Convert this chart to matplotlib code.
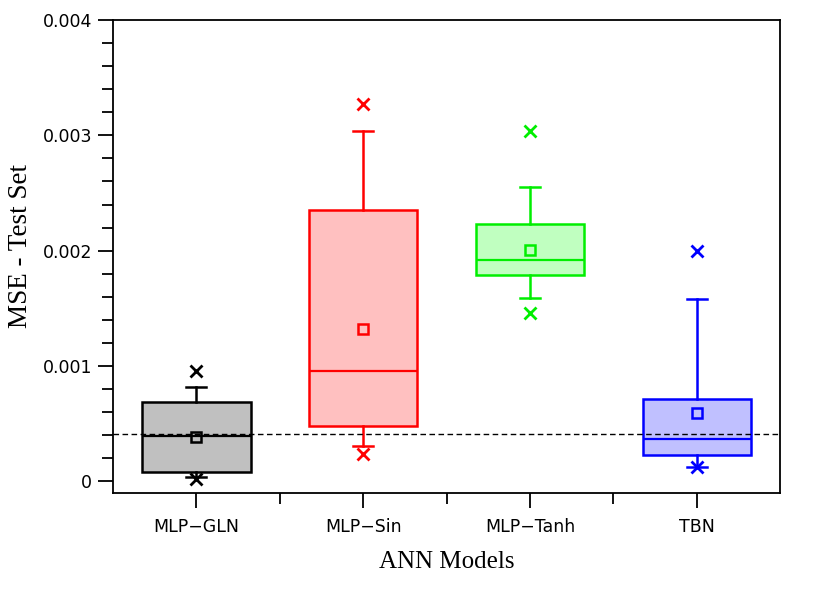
import matplotlib.pyplot as plt
from matplotlib.ticker import MultipleLocator, FixedLocator

models = ['MLP\u2212GLN', 'MLP\u2212Sin', 'MLP\u2212Tanh', 'TBN']
q1 = [0.000078, 0.000477, 0.00179, 0.000226]
medians = [0.00039, 0.000955, 0.00192, 0.000364]
q3 = [0.000685, 0.00235, 0.00223, 0.00071]
means = [0.00038, 0.00132, 0.00201, 0.00059]
whis_lo = [0.00004, 0.00031, 0.00159, 0.00012]
whis_hi = [0.000816, 0.00304, 0.00255, 0.00158]
min_vals = [0.00002, 0.00024, 0.00146, 0.00012]
max_vals = [0.00096, 0.00327, 0.00304, 0.002]
ref_line = 0.000408

edge_colors = ['black', 'red', '#00ee00', 'blue']
fill_colors = ['#c0c0c0', '#ffc0c0', '#c0ffc0', '#c0c0ff']

fig = plt.figure(figsize=(8.3, 5.9), dpi=100)
ax = fig.add_axes([0.136, 0.164, 0.804, 0.802])

for i in range(4):
    stats = [{'med': medians[i], 'q1': q1[i], 'q3': q3[i],
              'whislo': whis_lo[i], 'whishi': whis_hi[i],
              'mean': means[i], 'fliers': []}]
    c = edge_colors[i]
    ax.bxp(stats, positions=[i + 1], widths=0.65, patch_artist=True,
           showmeans=True, showfliers=False,
           boxprops=dict(facecolor=fill_colors[i], edgecolor=c, linewidth=1.8),
           medianprops=dict(color=c, linewidth=1.6),
           whiskerprops=dict(color=c, linewidth=1.8),
           capprops=dict(color=c, linewidth=1.8),
           capwidths=0.12,
           meanprops=dict(marker='s', markerfacecolor='none', markeredgecolor=c,
                          markersize=7, markeredgewidth=1.8))
    ax.plot([i + 1, i + 1], [min_vals[i], max_vals[i]], linestyle='none',
            marker='x', color=c, markersize=8, markeredgewidth=2)

ax.axhline(ref_line, color='black', linestyle='--', linewidth=1, dashes=(4, 2.5))

ax.set_xlim(0.5, 4.5)
ax.set_ylim(-0.000104, 0.004)
ax.set_xticks([1, 2, 3, 4])
ax.set_xticklabels(models)
ax.xaxis.set_minor_locator(FixedLocator([1.5, 2.5, 3.5]))
ax.set_yticks([0, 0.001, 0.002, 0.003, 0.004])
ax.set_yticklabels(['0', '0.001', '0.002', '0.003', '0.004'])
ax.yaxis.set_minor_locator(MultipleLocator(0.0002))

ax.tick_params(axis='both', which='major', direction='out', length=11, width=1.3,
               labelsize=12.5, pad=4)
ax.tick_params(axis='both', which='minor', direction='out', length=8, width=1.3)
ax.tick_params(axis='x', which='major', pad=7)
for s in ax.spines.values():
    s.set_linewidth(1.3)

ax.set_ylabel('MSE - Test Set', fontsize=19.5, family='Liberation Serif')
ax.yaxis.set_label_coords(-0.12, 0.522)
ax.set_xlabel('ANN Models', fontsize=18, family='Liberation Serif', labelpad=10.8)

fig.savefig('out.png', dpi=100)
